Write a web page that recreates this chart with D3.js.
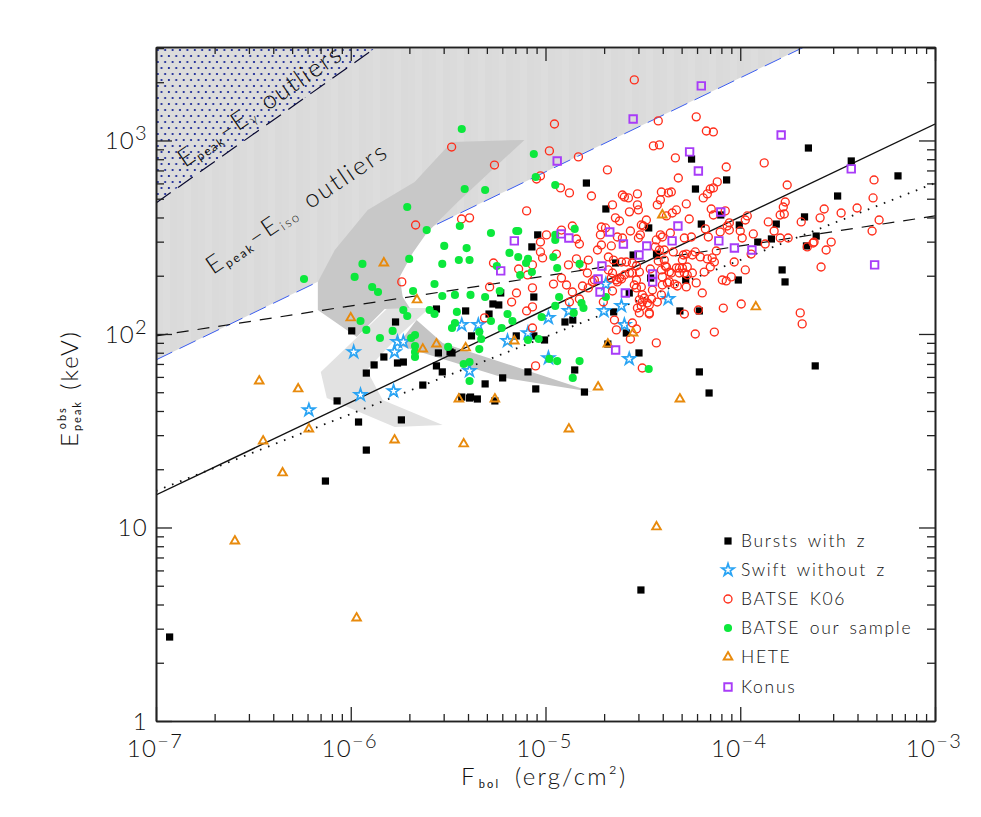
<!DOCTYPE html>
<html><head><meta charset="utf-8">
<script src="https://cdnjs.cloudflare.com/ajax/libs/d3/7.8.5/d3.min.js"></script>
<style>
html,body{margin:0;padding:0;background:#fff}
svg{display:block}
text{font-family:"Lato","Open Sans",sans-serif;font-weight:300;fill:#111}
</style></head><body><div id="chart"></div>
<script>
// All points are [log10 Fbol (erg/cm2), log10 Epeak (keV)]
const burstsWithZ = [[-6.93,.434],[-6.13,1.24],[-5.92,1.40],[-5.96,1.545],[-5.74,1.556],[-6.07,1.654],[-5.92,1.798],[-5.88,1.84],[-5.83,1.881],[-5.76,1.85],[-5.73,1.855],[-5.63,1.736],[-5.56,1.835],[-5.53,1.804],[-5.55,1.902],[-5.48,1.902],[-5.49,1.907],[-5.43,1.674],[-5.39,1.669],[-4.79,2.78],[-4.69,2.646],[-5.04,2.512],[-5.07,2.45],[-4.64,2.367],[-5.23,2.212],[-5.06,2.191],[-5.27,2.155],[-5.24,2.15],[-5.56,2.129],[-5.41,2.119],[-5.29,2.103],[-5.77,2.062],[-5.995,2.016],[-4.65,2.114],[-4.90,2.062],[-4.86,2.072],[-5.38,1.99],[-5.15,1.99],[-5.06,1.99],[-5.005,1.969],[-5.31,1.742],[-5.22,1.773],[-5.09,1.804],[-5.05,1.716],[-4.85,1.814],[-4.80,1.70],[-5.385,1.674],[-5.35,1.664],[-5.26,1.654],[-4.68,1.948],[-3.65,2.961],[-3.43,2.894],[-3.19,2.817],[-4.25,2.904],[-4.07,2.796],[-4.23,2.749],[-3.50,2.713],[-4.10,2.615],[-4.20,2.568],[-4.005,2.563],[-3.67,2.605],[-3.815,2.568],[-4.47,2.548],[-3.84,2.491],[-3.91,2.475],[-3.61,2.506],[-3.66,2.455],[-4.55,2.408],[-4.43,2.413],[-3.785,2.331],[-3.77,2.269],[-4.46,2.289],[-4.28,2.279],[-4.01,2.279],[-4.57,2.212],[-4.31,2.119],[-4.21,2.119],[-4.585,2.005],[-4.52,1.902],[-4.21,1.804],[-3.615,1.835],[-4.16,1.695],[-4.51,.677]];
const swiftNoZ = [[-6.215,1.607],[-5.95,1.685],[-5.78,1.705],[-5.985,1.907],[-5.76,1.959],[-5.73,1.959],[-5.775,1.907],[-5.43,2.047],[-5.345,2.047],[-5.39,1.809],[-5.195,1.964],[-5.09,2.005],[-4.985,2.083],[-4.88,2.119],[-4.985,1.876],[-4.70,2.119],[-4.69,2.258],[-4.61,2.145],[-4.37,2.181],[-4.595,2.047],[-4.57,1.871]];
const batseK06 = [[-5.667,2.563],[-5.738,2.269],[-5.482,2.966],[-4.954,3.085],[-4.98,2.946],[-4.831,2.915],[-5.262,2.873],[-4.682,2.848],[-5.026,2.817],[-5.046,2.801],[-4.923,2.755],[-4.877,2.729],[-4.764,2.713],[-4.656,2.667],[-5.097,2.636],[-5.431,2.594],[-5.39,2.6],[-4.641,2.6],[-4.62,2.584],[-4.862,2.558],[-4.918,2.537],[-4.995,2.512],[-4.713,2.553],[-4.692,2.548],[-4.718,2.512],[-4.841,2.491],[-4.826,2.465],[-5.026,2.475],[-4.713,2.46],[-4.733,2.434],[-4.662,2.455],[-5.026,2.424],[-4.944,2.413],[-5.015,2.393],[-4.677,2.398],[-4.841,2.388],[-4.78,2.382],[-4.651,2.382],[-5.267,2.367],[-5.067,2.357],[-4.882,2.357],[-4.81,2.351],[-5.138,2.336],[-5.092,2.305],[-4.656,2.315],[-4.662,2.289],[-4.918,2.289],[-4.959,2.258],[-4.892,2.253],[-4.81,2.248],[-4.749,2.279],[-4.78,2.238],[-5.287,2.243],[-5.067,2.238],[-5.149,2.212],[-4.862,2.217],[-4.826,2.181],[-4.656,2.222],[-4.631,2.269],[-5.174,2.165],[-4.877,2.165],[-4.703,2.165],[-5.067,2.14],[-5.097,2.119],[-4.646,2.072],[-4.636,2.021],[-5.067,2.031],[-5.051,1.835],[-5.313,2.083],[-4.544,3.313],[-4.421,3.101],[-4.446,2.972],[-4.415,2.977],[-4.605,2.718],[-4.595,2.708],[-4.574,2.703],[-4.528,2.724],[-4.405,2.734],[-4.369,2.729],[-4.41,2.693],[-4.426,2.667],[-4.528,2.667],[-4.523,2.641],[-4.569,2.631],[-4.482,2.589],[-4.226,3.122],[-4.174,3.049],[-4.138,3.044],[-4.333,2.91],[-4.072,2.863],[-3.877,2.884],[-4.318,2.806],[-3.759,2.77],[-4.354,2.734],[-4.118,2.786],[-4.138,2.755],[-4.154,2.749],[-4.169,2.724],[-4.19,2.703],[-4.277,2.672],[-4.328,2.641],[-4.349,2.625],[-4.379,2.61],[-3.769,2.682],[-3.779,2.656],[-3.774,2.62],[-3.795,2.615],[-4.262,2.594],[-4.149,2.646],[-4.138,2.615],[-4.077,2.636],[-3.964,2.61],[-3.974,2.589],[-3.856,2.579],[-4.056,2.574],[-4.067,2.558],[-4.056,2.537],[-4.0,2.532],[-4.103,2.527],[-4.179,2.543],[-4.164,2.501],[-3.933,2.517],[-4.251,2.501],[-4.287,2.496],[-4.359,2.522],[-4.4,2.501],[-3.99,2.496],[-3.826,2.532],[-3.795,2.496],[-3.754,2.496],[-3.313,2.796],[-3.318,2.703],[-3.569,2.646],[-3.482,2.625],[-3.4,2.651],[-3.59,2.6],[-3.687,2.579],[-3.287,2.589],[-3.323,2.532],[-3.533,2.475],[-3.621,2.475],[-3.626,2.47],[-3.656,2.45],[-3.559,2.434],[-3.585,2.346],[-3.872,2.465],[-3.944,2.413],[-4.631,2.501],[-4.605,2.496],[-4.497,2.558],[-4.564,2.532],[-4.513,2.512],[-4.523,2.496],[-4.41,2.512],[-4.436,2.45],[-4.39,2.434],[-4.344,2.424],[-4.292,2.408],[-4.277,2.413],[-4.231,2.424],[-4.205,2.398],[-4.123,2.429],[-4.169,2.388],[-4.144,2.393],[-4.133,2.372],[-4.154,2.346],[-4.031,2.372],[-3.974,2.331],[-4.185,2.32],[-4.046,2.295],[-4.072,2.274],[-4.092,2.279],[-4.226,2.264],[-4.195,2.212],[-4.087,2.134],[-3.995,2.155],[-4.215,2.124],[-4.287,2.103],[-4.133,2.01],[-4.231,2.0],[-4.431,1.954],[-4.503,1.824],[-3.692,2.109],[-3.682,2.052],[-4.61,2.372],[-4.585,2.372],[-4.554,2.367],[-4.533,2.351],[-4.554,2.315],[-4.569,2.315],[-4.421,2.377],[-4.462,2.336],[-4.385,2.351],[-4.354,2.315],[-4.364,2.32],[-4.313,2.341],[-4.328,2.341],[-4.297,2.341],[-4.272,2.346],[-4.287,2.315],[-4.313,2.315],[-4.272,2.305],[-4.533,2.279],[-4.61,2.284],[-4.636,2.279],[-4.508,2.243],[-4.533,2.238],[-4.451,2.227],[-4.4,2.295],[-4.4,2.253],[-4.374,2.264],[-4.338,2.258],[-4.323,2.248],[-4.277,2.243],[-4.405,2.202],[-4.426,2.165],[-4.503,2.202],[-4.492,2.186],[-4.503,2.165],[-4.456,2.181],[-4.467,2.15],[-4.477,2.16],[-4.508,2.145],[-4.528,2.134],[-4.518,2.109],[-4.467,2.109],[-4.467,2.103],[-4.554,2.057],[-4.533,2.026],[-4.564,1.974],[-4.39,2.382],[-4.415,2.434],[-4.297,2.382],[-4.379,2.346],[-4.405,2.331],[-4.246,2.315],[-4.246,2.408],[-4.364,2.269],[-4.677,2.331],[-4.759,2.269],[-4.595,2.305],[-4.62,2.289],[-4.544,2.253],[-4.518,2.32],[-4.518,2.176],[-4.431,2.486],[-4.508,2.563],[-4.785,2.315]];
const batseOurs = [[-5.71,2.656],[-5.61,2.537],[-5.52,2.455],[-5.53,2.362],[-5.70,2.388],[-5.94,2.362],[-5.98,2.295],[-6.24,2.284],[-5.89,2.243],[-5.86,2.217],[-5.57,2.258],[-5.68,2.222],[-5.53,2.196],[-5.73,2.124],[-5.71,2.093],[-5.595,2.124],[-5.57,2.103],[-5.95,2.067],[-5.92,2.021],[-5.85,1.979],[-5.785,2.016],[-5.67,1.995],[-5.69,1.979],[-5.67,1.938],[-5.67,1.907],[-5.67,1.881],[-5.50,1.933],[-5.43,3.059],[-5.06,2.93],[-5.05,2.811],[-5.415,2.749],[-5.31,2.744],[-4.95,2.77],[-5.44,2.558],[-5.28,2.522],[-5.405,2.444],[-5.15,2.532],[-5.14,2.532],[-4.85,2.543],[-4.95,2.512],[-4.95,2.486],[-5.185,2.419],[-5.14,2.398],[-5.09,2.388],[-5.10,2.367],[-4.96,2.398],[-5.445,2.382],[-5.39,2.382],[-5.465,2.202],[-5.385,2.202],[-5.31,2.191],[-5.25,2.351],[-5.235,2.222],[-5.07,2.32],[-5.13,2.305],[-4.94,2.341],[-4.825,2.362],[-4.93,2.191],[-4.95,2.145],[-4.815,2.16],[-4.805,2.134],[-4.855,2.109],[-4.69,2.191],[-5.455,2.114],[-5.195,2.103],[-5.17,2.067],[-5.28,2.067],[-5.02,2.088],[-5.225,2.031],[-5.34,2.01],[-5.465,2.057],[-5.48,2.031],[-5.33,1.974],[-5.34,1.922],[-5.09,1.969],[-5.035,1.974],[-4.98,1.871],[-4.94,1.86],[-4.825,1.86],[-4.86,1.773],[-5.42,1.845],[-5.39,1.855],[-5.39,1.757],[-4.47,1.819]];
const hete = [[-6.47,1.757],[-6.27,1.716],[-6.45,1.447],[-6.215,1.509],[-6.35,1.282],[-6.595,.93],[-5.97,.532],[-5.775,1.452],[-5.42,1.432],[-5.445,1.664],[-5.83,2.367],[-5.66,2.176],[-6,2.083],[-5.63,1.922],[-5.56,1.948],[-5.26,1.664],[-5.41,1.928],[-5.16,1.964],[-4.73,1.726],[-4.68,1.948],[-4.40,2.615],[-3.92,2.14],[-4.55,2.005],[-4.31,1.664],[-4.88,1.509],[-4.43,1.003]];
const konus = [[-4.94,2.894],[-4.92,2.517],[-4.88,2.496],[-5.16,2.481],[-5.23,2.326],[-4.67,2.527],[-4.71,2.351],[-4.73,2.284],[-4.72,2.217],[-4.64,1.917],[-4.20,3.282],[-4.55,3.111],[-3.79,3.028],[-4.26,2.941],[-4.215,2.842],[-3.43,2.853],[-4.10,2.63],[-4.32,2.558],[-4.60,2.465],[-4.35,2.481],[-4.48,2.455],[-4.11,2.481],[-4.03,2.444],[-3.94,2.434],[-4.52,2.408],[-4.45,2.31],[-4.45,2.269],[-4.59,2.212],[-3.31,2.357]];

// Outlier regions and contour shapes, same log10 units
const gammaEdge = [[-7,2.677],[-5.867,3.483]];
const isoEdge = [[-7,1.866],[-3.672,3.483]];
const plotCorner = [-7,3.483];
const contourDark = [[-5.482,2.992],[-5.108,3.003],[-5.456,2.677],[-5.61,2.522],[-5.682,2.419],[-5.749,2.295],[-5.733,2.191],[-5.697,2.134],[-5.826,2.129],[-5.969,1.985],[-6.169,2.124],[-6.169,2.269],[-6.082,2.434],[-5.913,2.641],[-5.672,2.786]];
const contourLight = [[-6.154,1.804],[-5.81,2.134],[-5.595,2.134],[-5.749,1.995],[-5.918,1.814],[-5.836,1.659],[-5.528,1.53],[-5.774,1.519],[-6.005,1.618],[-6.123,1.669]];
const contourThin = [[-5.662,2.072],[-5.528,1.954],[-4.759,1.70],[-5.21,1.773],[-5.544,1.876],[-5.759,1.943]];
const fitSolid = [[-7,1.168],[-3,3.085]];
const fitDotted = [[-7,1.189],[-3,2.78]];
const fitDashed = [[-7,1.99],[-3,2.61]];

const legendLabels = ["Bursts with z","Swift without z","BATSE K06","BATSE our sample","HETE","Konus"];
const xDecades = [-7,-6,-5,-4,-3];
const yDecades = [0,1,2,3];

const W=981,H=817,L=156,R=935,T=47,B=721;
const x=d3.scaleLog().domain([1e-7,1e-3]).range([L,R]);
const y=d3.scaleLog().domain([1,Math.pow(10,3.483)]).range([B,T]);
const X=d=>x(Math.pow(10,d[0])), Y=d=>y(Math.pow(10,d[1]));
const svg=d3.select("#chart").append("svg").attr("width",W).attr("height",H);
const defs=svg.append("defs");
defs.append("clipPath").attr("id","plot").append("rect").attr("x",L).attr("y",T).attr("width",R-L).attr("height",B-T);
const stripes=defs.append("pattern").attr("id","bands").attr("patternUnits","userSpaceOnUse").attr("x",L).attr("y",0).attr("width",21).attr("height",10);
[["#dbdbdb",0,7],["#dddddd",7,7],["#dadada",14,7]].forEach(s=>stripes.append("rect").attr("x",s[1]).attr("y",0).attr("width",s[2]).attr("height",10).attr("fill",s[0]));
const dots=defs.append("pattern").attr("id","dots").attr("patternUnits","userSpaceOnUse").attr("x",L).attr("y",T).attr("width",7.4).attr("height",12);
dots.append("rect").attr("width",7.4).attr("height",12).attr("fill","#dcdcdc");
dots.append("circle").attr("cx",1.8).attr("cy",3).attr("r",1.1).attr("fill","#0a1a90");
dots.append("circle").attr("cx",5.5).attr("cy",9).attr("r",1.1).attr("fill","#0a1a90");

const g=svg.append("g").attr("clip-path","url(#plot)");
const path=pts=>"M"+pts.map(d=>X(d)+","+Y(d)).join("L")+"Z";
const line=d3.line().x(X).y(Y);
g.append("path").attr("d",path([isoEdge[0],isoEdge[1],plotCorner])).attr("fill","url(#bands)");
g.append("path").attr("d",path([gammaEdge[0],gammaEdge[1],plotCorner])).attr("fill","url(#dots)");
g.append("path").attr("d",line(isoEdge)).attr("fill","none").attr("stroke","#3a5cf0").attr("stroke-width",1).attr("stroke-dasharray","18,8");
g.append("path").attr("d",line(gammaEdge)).attr("fill","none").attr("stroke","#0a0a30").attr("stroke-width",1.2).attr("stroke-dasharray","18,9");
g.append("path").attr("d",path(contourLight)).attr("fill","#e2e2e2");
g.append("path").attr("d",path(contourDark)).attr("fill","#c8c8c8");
g.append("path").attr("d",path(contourThin)).attr("fill","#c4c4c4");
g.append("path").attr("d",line(fitDashed)).attr("fill","none").attr("stroke","#111").attr("stroke-width",1.2).attr("stroke-dasharray","12,9");
g.append("path").attr("d",line(fitSolid)).attr("fill","none").attr("stroke","#111").attr("stroke-width",1.4);
g.append("path").attr("d",line(fitDotted)).attr("fill","none").attr("stroke","#111").attr("stroke-width",1.8).attr("stroke-dasharray","1.6,7");

const styles={
 bursts:{type:d3.symbolSquare,size:52,fill:"#000",stroke:"none",sw:0},
 swift:{type:d3.symbolStar,size:46,fill:"#fff",stroke:"#2aa4f4",sw:1.7},
 k06:{type:d3.symbolCircle,size:50,fill:"none",stroke:"#ff2d1a",sw:1.35},
 ours:{type:d3.symbolCircle,size:52,fill:"#0ce83c",stroke:"none",sw:0},
 hete:{type:d3.symbolTriangle,size:32,fill:"none",stroke:"#e88a0c",sw:1.9},
 konus:{type:d3.symbolSquare,size:56,fill:"none",stroke:"#a83cf8",sw:1.9}
};
const series=[[burstsWithZ,styles.bursts],[swiftNoZ,styles.swift],[batseK06,styles.k06],[batseOurs,styles.ours],[hete,styles.hete],[konus,styles.konus]];
const sym=s=>d3.symbol().type(s.type).size(s.size)();
series.forEach(([data,s])=>{
 g.append("g").selectAll("path").data(data).join("path")
  .attr("transform",d=>`translate(${X(d)},${Y(d)})`)
  .attr("d",sym(s)).attr("fill",s.fill).attr("stroke",s.stroke).attr("stroke-width",s.sw);
});

// Axes
const minorVals=dec=>{const o=[];dec.forEach(e=>{for(let m=2;m<10;m++){const v=m*Math.pow(10,e);o.push(v)}});return o};
const axisStyle=a=>{a.select(".domain").attr("stroke","#222").attr("stroke-width",1.6);a.selectAll("line").attr("stroke","#222").attr("stroke-width",1.3);a.selectAll("text").remove()};
const xMaj=xDecades.map(e=>Math.pow(10,e)), yMaj=yDecades.map(e=>Math.pow(10,e));
const xMin=minorVals(xDecades.slice(0,4)), yMin=minorVals(yDecades).filter(v=>v<=y.domain()[1]);
function ax(gen,scale,vals,len,tf){
 const a=svg.append("g").attr("transform",tf).call(gen(scale).tickValues(vals).tickSizeOuter(0).tickSizeInner(-len).tickFormat(""));
 axisStyle(a);
}
ax(d3.axisBottom,x,xMaj,14,`translate(0,${B})`);ax(d3.axisBottom,x,xMin,7,`translate(0,${B})`);
ax(d3.axisTop,x,xMaj,14,`translate(0,${T})`);ax(d3.axisTop,x,xMin,7,`translate(0,${T})`);
ax(d3.axisLeft,y,yMaj,16,`translate(${L},0)`);ax(d3.axisLeft,y,yMin,8,`translate(${L},0)`);
ax(d3.axisRight,y,yMaj,16,`translate(${R},0)`);ax(d3.axisRight,y,yMin,8,`translate(${R},0)`);

function power(sel,e,baseSize,expSize){
 sel.append("tspan").text("10").attr("font-size",baseSize);
 sel.append("tspan").text(e).attr("font-size",expSize).attr("dy",-9);
}
xDecades.forEach(e=>{
 const t=svg.append("text").attr("x",x(Math.pow(10,e))-1).attr("y",757).attr("text-anchor","middle").attr("letter-spacing",1.3);
 power(t,"\u2212"+(-e),24,20);
});
yDecades.forEach(e=>{
 const t=svg.append("text").attr("x",148).attr("y",y(Math.pow(10,e))+9).attr("text-anchor","end").attr("letter-spacing",1.3);
 if(e===0)t.text("1").attr("font-size",24);
 else if(e===1)t.text("10").attr("font-size",24);
 else power(t,String(e),24,20);
});
// Axis titles
const xt=svg.append("text").attr("x",461).attr("y",785).attr("letter-spacing",2.2).attr("word-spacing",6);
xt.append("tspan").text("F").attr("font-size",24);
xt.append("tspan").text("bol").attr("font-size",11).attr("dy",3).attr("dx",2).style("font-weight",400);
xt.append("tspan").text(" (erg/cm\u00b2)").attr("font-size",24).attr("dy",-3);
const yt=svg.append("text").attr("transform","translate(78,447) rotate(-90)").attr("letter-spacing",2);
yt.append("tspan").text("E").attr("font-size",24);
yt.append("tspan").text("peak").attr("font-size",11).attr("dy",3).style("font-weight",400);
yt.append("tspan").text("obs").attr("font-size",11).attr("dy",-15).attr("dx",-29).style("font-weight",400);
yt.append("tspan").text(" (keV)").attr("font-size",24).attr("dy",12).attr("dx",8);

// Region labels
const gl=svg.append("text").attr("transform","translate(185,168) rotate(-34.6)").attr("letter-spacing",1.7).attr("word-spacing",3);
gl.append("tspan").text("E").attr("font-size",25);
gl.append("tspan").text("peak").attr("font-size",12).attr("dy",3).style("font-weight",400);
gl.append("tspan").text("\u2013E").attr("font-size",25).attr("dy",-3);
gl.append("tspan").text("\u03b3").attr("font-size",13).attr("dy",3);
gl.append("tspan").text(" outliers").attr("font-size",25).attr("dy",-3);
const il=svg.append("text").attr("transform","translate(213,275) rotate(-34)").attr("letter-spacing",2.1).attr("word-spacing",3);
il.append("tspan").text("E").attr("font-size",25);
il.append("tspan").text("peak").attr("font-size",12).attr("dy",3).style("font-weight",400);
il.append("tspan").text("\u2013E").attr("font-size",25).attr("dy",-3);
il.append("tspan").text("iso").attr("font-size",13).attr("dy",3);
il.append("tspan").text(" outliers").attr("font-size",25).attr("dy",-3);

// Legend
const legendY=[541,570,599,628,657,687];
legendLabels.forEach((lab,i)=>{
 const s=series[i][1];
 svg.append("path").attr("transform",`translate(728,${legendY[i]})`).attr("d",sym(s)).attr("fill",s.fill==="#fff"?"none":s.fill).attr("stroke",s.stroke).attr("stroke-width",s.sw);
 svg.append("text").attr("x",741).attr("y",legendY[i]+6).attr("font-size",17.5).attr("letter-spacing",1.7).attr("word-spacing",3).text(lab);
});
</script></body></html>
